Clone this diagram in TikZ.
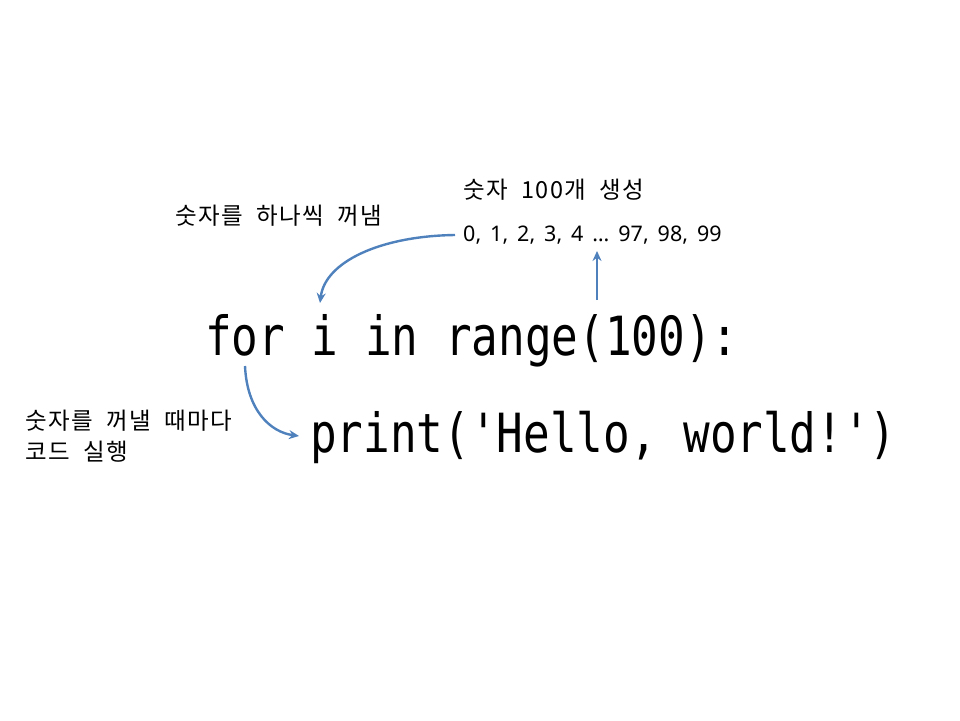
\documentclass[tikz,border=0pt]{standalone}
\usepackage{fontspec}
\usetikzlibrary{arrows.meta}
\setmainfont{Noto Sans CJK KR}[LetterSpace=6,WordSpace=2]
\newfontfamily\latinfont{Noto Sans}[WordSpace=1.6]
\newfontfamily\codefont[FakeStretch=0.82]{DejaVu Sans Mono}
\definecolor{arrowblue}{HTML}{4F81BD}
\tikzset{
  label text/.style={inner sep=0pt, font=\fontsize{23.5}{31}\selectfont},
  number text/.style={inner sep=0pt, font=\latinfont\fontsize{21.5}{28}\selectfont},
  code text/.style={inner sep=0pt, font=\codefont\fontsize{54}{60}\selectfont},
  flow/.style={draw=arrowblue, line width=2.4pt, -{Stealth[length=10pt,width=9pt]}}
}
\begin{document}
\begin{tikzpicture}[x=1pt,y=-1pt]
\useasboundingbox (0,0) rectangle (960,720);
\node[label text, anchor=west] (gen) at (463,190) {숫자 100개 생성};
\node[number text, anchor=west] (nums) at (463,235) {0, 1, 2, 3, 4 … 97, 98, 99};
\node[label text, anchor=west] (take) at (175,216) {숫자를 하나씩 꺼냄};
\node[label text, anchor=west, align=left] (run) at (25,436) {숫자를 꺼낼 때마다\\코드 실행};
\node[code text, anchor=base west] (forline) at (205,355) {for i in range(100):};
\node[code text, anchor=base west] (printline) at (310,452) {print('Hello, world!')};
\coordinate (takeend) at (320,303);
\coordinate (genstart) at (597,300);
\coordinate (genend) at (597,251);
\coordinate (loopstart) at (245,366);
\coordinate (loopend) at (299,436);
\draw[flow] (nums.west) ++(-8,0) coordinate (numsw) .. controls (380,236) and (325,262) .. (takeend);
\draw[flow] (genstart) -- (genend);
\draw[flow] (loopstart) .. controls (247,410) and (270,432) .. (loopend);
\end{tikzpicture}
\end{document}
